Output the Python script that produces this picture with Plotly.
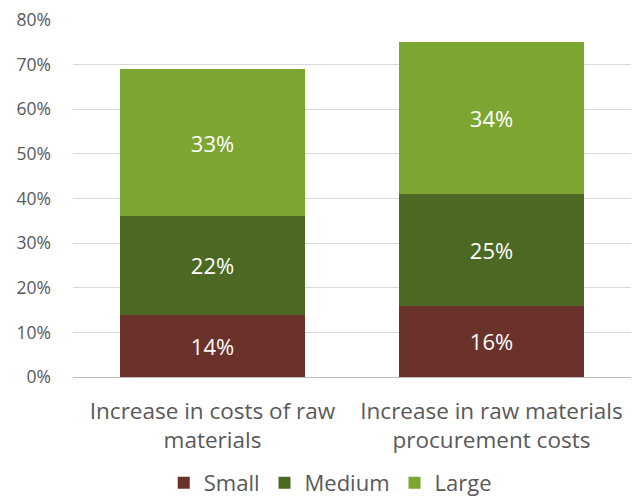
import plotly.graph_objects as go

categories = ["Increase in costs of raw<br>materials", "Increase in raw materials<br>procurement costs"]
series_names = ["Small", "Medium", "Large"]
small = [0.14, 0.16]
medium = [0.22, 0.25]
large = [0.33, 0.34]
colors = ["#6B312B", "#4B6922", "#7CA532"]
y_ticks = [0, 0.1, 0.2, 0.3, 0.4, 0.5, 0.6, 0.7, 0.8]

font_family = "'Open Sans', sans-serif"

fig = go.Figure()
for name, vals, col in zip(series_names, [small, medium, large], colors):
    fig.add_trace(go.Bar(
        name=name,
        x=categories,
        y=vals,
        marker=dict(color=col, line=dict(width=0)),
        text=[f"{v:.0%}" for v in vals],
        textposition="inside",
        insidetextanchor="middle",
        textangle=0,
        textfont=dict(color="white", size=22, family=font_family),
    ))

fig.update_layout(
    barmode="stack",
    bargap=0.34,
    width=640,
    height=501,
    margin=dict(l=73, r=9, t=20, b=124),
    paper_bgcolor="white",
    plot_bgcolor="white",
    font=dict(family=font_family, color="#595959", size=22),
    showlegend=True,
    legend=dict(
        orientation="h",
        x=0.516, xanchor="center", xref="container",
        y=0.036, yanchor="middle", yref="container",
        font=dict(size=22, color="#595959"),
        traceorder="normal",
        itemwidth=30,
        tracegroupgap=0,
    ),
    uniformtext=dict(mode=False),
)
fig.update_xaxes(
    automargin=False,
    showline=True, linecolor="#bfbfbf", linewidth=1,
    ticks="", ticklabelstandoff=14,
    tickfont=dict(size=22.5, color="#595959"),
)
fig.update_yaxes(
    automargin=False,
    range=[0, 0.8],
    tickvals=y_ticks,
    tickformat=".0%",
    showgrid=True, gridcolor="#d9d9d9", gridwidth=1,
    zeroline=False,
    ticks="", ticklabelstandoff=21,
    tickfont=dict(size=17.5, color="#595959"),
)

fig.write_html("out.html")
